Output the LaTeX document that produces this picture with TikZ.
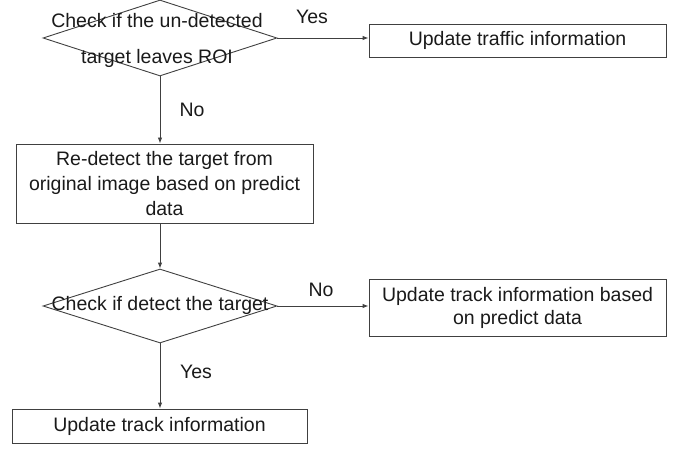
\documentclass[tikz,border=0pt]{standalone}
\usepackage{fontspec}
\setmainfont{Liberation Sans}
\usetikzlibrary{shapes.geometric,arrows.meta}
\definecolor{linegray}{HTML}{404040}
\definecolor{textgray}{HTML}{1A1A1A}
\begin{document}
\begin{tikzpicture}[x=1pt,y=-1pt,
  every node/.style={text=textgray,font=\fontsize{19.5}{24}\selectfont},
  procbox/.style={draw=linegray,line width=0.9pt,rectangle,inner sep=0pt,align=center},
  decision/.style={draw=linegray,line width=0.9pt,diamond,inner sep=0pt},
  flow/.style={draw=linegray,line width=0.9pt,-{Latex[length=6pt,width=4.5pt]}},
  lbl/.style={inner sep=0pt}]
\useasboundingbox (0,0) rectangle (679,449);

% decision 1
\node[decision,minimum width=234,minimum height=76] (d1) at (160,38) {};
\node[lbl,align=center,font=\fontsize{19.5}{36}\selectfont] (d1t) at (157,40)
  {Check if the un-detected\\target leaves ROI};

% process boxes
\node[procbox,minimum width=297,minimum height=33] (b1) at (517.5,40.5) {Update traffic information};
\node[procbox,minimum width=297,minimum height=79,font=\fontsize{19.5}{25}\selectfont] (b2) at (164.5,183.5)
  {Re-detect the target from\\original image based on predict\\data};

% decision 2
\node[decision,minimum width=234,minimum height=74] (d2) at (160,306) {};
\node[lbl] (d2t) at (160,305) {Check if detect the target};

\node[procbox,minimum width=297,minimum height=57,font=\fontsize{19.5}{23}\selectfont] (b3) at (517.5,307.5)
  {Update track information based\\on predict data};
\node[procbox,minimum width=295,minimum height=34] (b4) at (159.5,426) {Update track information};

% connectors
\draw[flow] (d1.east) -- (d1.east -| b1.west);
\draw[flow] (d1.south) -- (d1.south |- b2.north);
\draw[flow] (d2.north |- b2.south) -- (d2.north);
\draw[flow] (d2.east) -- (d2.east -| b3.west);
\draw[flow] (d2.south) -- (d2.south |- b4.north);

% branch labels
\node[lbl] (y1) at (312,17) {Yes};
\node[lbl] (n1) at (192,110) {No};
\node[lbl] (n2) at (321,290) {No};
\node[lbl] (y2) at (196,372) {Yes};
\end{tikzpicture}
\end{document}
